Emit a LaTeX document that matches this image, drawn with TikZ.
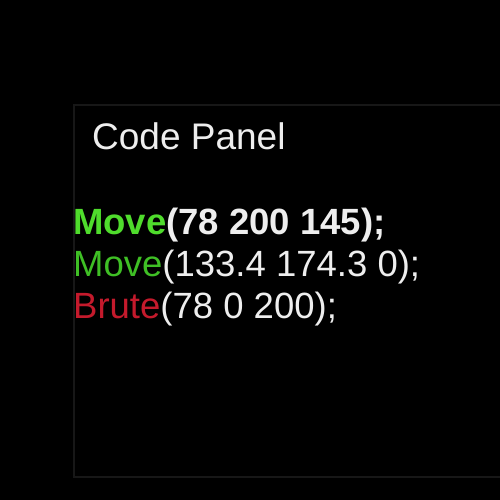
\documentclass[tikz,border=0pt]{standalone}
\usepackage{fontspec}
\setmainfont{Liberation Sans}
\usepackage{xcolor}
\definecolor{panelline}{HTML}{171717}
\definecolor{movegreen}{HTML}{4FDC2C}
\definecolor{movegreendim}{HTML}{3FBF25}
\definecolor{brutered}{HTML}{C41A2C}
\definecolor{codetext}{HTML}{EEEEEE}
\usetikzlibrary{positioning}
\tikzset{
panel/.style = {draw=panelline, line width=2pt},
codeline/.style = {anchor=base west, inner sep=0pt, text=codetext, font=\fontsize{36.5}{40}\selectfont},
}

\begin{document}
\begin{tikzpicture}[x=1pt, y=-1pt]
    \useasboundingbox[fill=black] (0,0) rectangle (500,500);
    \draw[panel] (520,105) -- (74,105) -- (74,477) -- (520,477);
    \node[codeline, font=\fontsize{37}{40}\selectfont] (title) at (92,149) {Code Panel};
    \node[codeline] (line1) at (73,234) {\bfseries\textcolor{movegreen}{Move}(78 200 145);};
    \node[codeline] (line2) at (73,276) {\textcolor{movegreendim}{Move}(133.4 174.3 0);};
    \node[codeline] (line3) at (73,318) {\textcolor{brutered}{Brute}(78 0 200);};
\end{tikzpicture}
\end{document}
